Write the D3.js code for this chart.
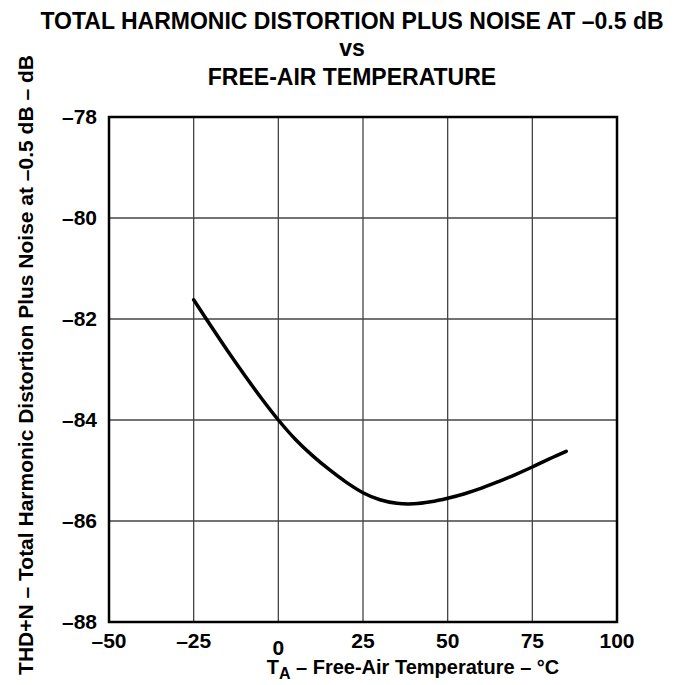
<!DOCTYPE html>
<html>
<head>
<meta charset="utf-8">
<script src="https://cdn.jsdelivr.net/npm/d3@7"></script>
<style>
  body { margin: 0; background: white; }
  text { font-family: "Liberation Sans", Arial, sans-serif; font-weight: bold; fill: black; }
</style>
</head>
<body>
<script>
// Data
const temps = [-25, -20, -15, -10, -5, 0, 5, 10, 15, 20, 25, 30, 35, 40, 45, 50, 55, 60, 65, 70, 75, 80, 85];
const thdn = [-81.62, -82.13, -82.63, -83.11, -83.57, -84.0, -84.38, -84.7, -84.98, -85.23, -85.44, -85.58, -85.65, -85.66, -85.62, -85.55, -85.46, -85.35, -85.22, -85.08, -84.93, -84.77, -84.62];

const xTicks = [-50, -25, 0, 25, 50, 75, 100];
const yTicks = [-78, -80, -82, -84, -86, -88];

const titleLines = ["TOTAL HARMONIC DISTORTION PLUS NOISE AT \u20130.5 dB", "vs", "FREE-AIR TEMPERATURE"];

const W = 690, H = 685;
const plot = { left: 109, right: 617, top: 117, bottom: 622 };

const svg = d3.select("body").append("svg")
    .attr("width", W)
    .attr("height", H);

const x = d3.scaleLinear().domain([-50, 100]).range([plot.left, plot.right]);
const y = d3.scaleLinear().domain([-88, -78]).range([plot.bottom, plot.top]);

// grid
svg.append("g")
    .selectAll("line")
    .data(xTicks.slice(1, -1))
    .join("line")
    .attr("x1", d => x(d)).attr("x2", d => x(d))
    .attr("y1", plot.top).attr("y2", plot.bottom)
    .attr("stroke", "#444").attr("stroke-width", 1.3);

svg.append("g")
    .selectAll("line")
    .data(yTicks.slice(1, -1))
    .join("line")
    .attr("y1", d => y(d)).attr("y2", d => y(d))
    .attr("x1", plot.left).attr("x2", plot.right)
    .attr("stroke", "#444").attr("stroke-width", 1.3);

// frame
svg.append("rect")
    .attr("x", plot.left).attr("y", plot.top)
    .attr("width", plot.right - plot.left)
    .attr("height", plot.bottom - plot.top)
    .attr("fill", "none")
    .attr("stroke", "black")
    .attr("stroke-width", 2.5);

// tick labels
const fmt = v => v < 0 ? "\u2013" + Math.abs(v) : String(v);

svg.append("g")
    .selectAll("text")
    .data(yTicks)
    .join("text")
    .attr("x", plot.left - 12)
    .attr("y", d => y(d))
    .attr("dy", "0.35em")
    .attr("text-anchor", "end")
    .attr("font-size", 21)
    .text(fmt);

svg.append("g")
    .selectAll("text")
    .data(xTicks)
    .join("text")
    .attr("x", d => x(d))
    .attr("y", d => d === 0 ? 655 : 648)   // the 0 sits a little lower in the original
    .attr("text-anchor", "middle")
    .attr("font-size", 21)
    .text(fmt);

// curve
const line = d3.line()
    .x((d, i) => x(temps[i]))
    .y(d => y(d))
    .curve(d3.curveCatmullRom);

svg.append("path")
    .datum(thdn)
    .attr("d", line)
    .attr("fill", "none")
    .attr("stroke", "black")
    .attr("stroke-width", 3.5)
    .attr("stroke-linecap", "round");

// title
svg.append("g")
    .selectAll("text")
    .data(titleLines)
    .join("text")
    .attr("x", 352)
    .attr("y", (d, i) => [29, 56, 85][i])
    .attr("text-anchor", "middle")
    .attr("font-size", 23)
    .text(d => d);

// x axis label
const xl = svg.append("text")
    .attr("x", 413)
    .attr("y", 674)
    .attr("text-anchor", "middle")
    .attr("font-size", 20);
xl.append("tspan").text("T");
xl.append("tspan").attr("font-size", 16).attr("dy", 5).text("A");
xl.append("tspan").attr("dy", -5).text(" \u2013 Free-Air Temperature \u2013 \u00b0C");

// y axis label
svg.append("text")
    .attr("transform", "translate(33,365) rotate(-90)")
    .attr("text-anchor", "middle")
    .attr("font-size", 21)
    .text("THD+N \u2013 Total Harmonic Distortion Plus Noise at \u20130.5 dB \u2013 dB");
</script>
</body>
</html>
